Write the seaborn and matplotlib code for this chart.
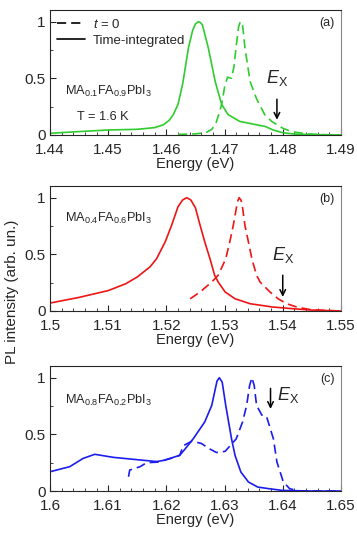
"""
PL spectra (t = 0 and time-integrated) for three MA/FA compositions.
"""

import pandas as pd
import matplotlib
matplotlib.use("Agg")
import matplotlib.pyplot as plt
from matplotlib.ticker import MultipleLocator, FuncFormatter
import seaborn as sns

# panel (a) MA0.1FA0.9PbI3
A_INT_E = [1.440, 1.445, 1.450, 1.455, 1.458, 1.4595, 1.4605, 1.4612, 1.462, 1.4628, 1.4638,
           1.4645, 1.4650, 1.4655, 1.4659, 1.4662, 1.4672, 1.468, 1.4684, 1.4695, 1.4706,
           1.4726, 1.4755, 1.477, 1.4783, 1.480, 1.482, 1.485, 1.490]
A_INT_I = [0.015, 0.03, 0.044, 0.05, 0.065, 0.09, 0.13, 0.18, 0.27, 0.45, 0.77,
           0.92, 0.98, 1.0, 0.99, 0.97, 0.77, 0.57, 0.47, 0.27, 0.18,
           0.12, 0.09, 0.075, 0.045, 0.02, 0.008, 0.003, 0.0]
A_T0_E = [1.462, 1.465, 1.4668, 1.4678, 1.4685, 1.469, 1.4695, 1.470, 1.4705, 1.4712, 1.4716,
          1.472, 1.4724, 1.4727, 1.4729, 1.4731, 1.4735, 1.4744, 1.4755, 1.4769, 1.4781,
          1.480, 1.4815, 1.484, 1.487, 1.490]
A_T0_I = [0.005, 0.01, 0.02, 0.05, 0.10, 0.18, 0.27, 0.42, 0.51, 0.50, 0.60,
          0.78, 0.95, 1.0, 0.995, 0.97, 0.77, 0.47, 0.32, 0.18, 0.12,
          0.06, 0.03, 0.01, 0.003, 0.0]

# panel (b) MA0.4FA0.6PbI3
B_INT_E = [1.500, 1.505, 1.510, 1.513, 1.515, 1.5172, 1.5183, 1.5198, 1.5209, 1.522, 1.5228,
           1.5235, 1.5242, 1.525, 1.5258, 1.5266, 1.5275, 1.5283, 1.5289, 1.5301, 1.5318,
           1.5344, 1.5383, 1.5418, 1.545, 1.550]
B_INT_I = [0.07, 0.12, 0.18, 0.24, 0.30, 0.39, 0.46, 0.61, 0.756, 0.92, 0.98,
           1.0, 0.98, 0.91, 0.756, 0.61, 0.46, 0.315, 0.256, 0.168, 0.108,
           0.064, 0.035, 0.02, 0.008, 0.0]
B_T0_E = [1.5241, 1.5258, 1.5278, 1.5289, 1.5302, 1.5309, 1.5315, 1.532, 1.5322, 1.5325,
          1.5328, 1.533, 1.5335, 1.5341, 1.5347, 1.5355, 1.5361, 1.5378, 1.5392, 1.5407,
          1.5424, 1.545, 1.550]
B_T0_I = [0.108, 0.168, 0.256, 0.315, 0.46, 0.61, 0.756, 0.90, 0.96, 1.0,
          0.98, 0.95, 0.756, 0.61, 0.46, 0.315, 0.256, 0.168, 0.108, 0.064,
          0.035, 0.01, 0.0]

# panel (c) MA0.8FA0.2PbI3
C_INT_E = [1.600, 1.6034, 1.6057, 1.6077, 1.6109, 1.6155, 1.6183, 1.6195, 1.6223, 1.6232,
           1.6246, 1.6266, 1.6278, 1.6287, 1.6291, 1.6296, 1.6302, 1.6312, 1.6318, 1.6328,
           1.6341, 1.6357, 1.6377, 1.640, 1.645, 1.650]
C_INT_I = [0.17, 0.215, 0.288, 0.324, 0.297, 0.274, 0.26, 0.27, 0.315, 0.37,
           0.46, 0.61, 0.756, 0.97, 1.0, 0.96, 0.756, 0.46, 0.315, 0.168,
           0.08, 0.035, 0.02, 0.005, 0.0, 0.0]
C_T0_E = [1.6135, 1.6137, 1.6155, 1.6166, 1.6185, 1.6206, 1.6223, 1.6229, 1.6244, 1.626,
          1.6275, 1.6286, 1.6301, 1.632, 1.6331, 1.6338, 1.6343, 1.6347, 1.6351, 1.6355,
          1.6364, 1.6372, 1.6375, 1.6384, 1.639, 1.6401, 1.6412, 1.643, 1.650]
C_T0_I = [0.126, 0.185, 0.215, 0.25, 0.255, 0.285, 0.315, 0.40, 0.44, 0.42,
          0.37, 0.34, 0.35, 0.46, 0.61, 0.756, 0.93, 1.0, 0.93, 0.756,
          0.67, 0.66, 0.61, 0.46, 0.256, 0.08, 0.02, 0.0, 0.0]

PANELS = [
    dict(tag="(a)", color="#2fcc2f", xlim=(1.44, 1.49),
         integ=(A_INT_E, A_INT_I), t0=(A_T0_E, A_T0_I),
         name=r"MA$_{0.1}$FA$_{0.9}$PbI$_3$", name_y=0.38),
    dict(tag="(b)", color="#ee1515", xlim=(1.50, 1.55),
         integ=(B_INT_E, B_INT_I), t0=(B_T0_E, B_T0_I),
         name=r"MA$_{0.4}$FA$_{0.6}$PbI$_3$", name_y=0.82),
    dict(tag="(c)", color="#1c1cee", xlim=(1.60, 1.65),
         integ=(C_INT_E, C_INT_I), t0=(C_T0_E, C_T0_I),
         name=r"MA$_{0.8}$FA$_{0.2}$PbI$_3$", name_y=0.80),
]

# E_X arrows: (energy, arrow top, arrow bottom, label x, label y, label ha)
EX_MARKS = [
    (1.4790, 0.34, 0.11, 1.4790, 0.50, "center"),
    (1.5400, 0.34, 0.10, 1.5400, 0.49, "center"),
    (1.6379, 0.93, 0.70, 1.6390, 0.85, "left"),
]

DASH = (0, (5.5, 3))

sns.set_style("ticks")
plt.rcParams["font.family"] = ["Liberation Sans", "DejaVu Sans"]
plt.rcParams["mathtext.fontset"] = "custom"
plt.rcParams["mathtext.rm"] = "Liberation Sans"
plt.rcParams["mathtext.it"] = "Liberation Sans:italic"

fig = plt.figure(figsize=(3.57, 5.35), dpi=100)
bottoms = [0.7477, 0.4187, 0.0822]
axes = [fig.add_axes([0.140, b, 0.815, 0.233]) for b in bottoms]

for ax, p, ex in zip(axes, PANELS, EX_MARKS):
    d_int = pd.DataFrame({"E": p["integ"][0], "I": p["integ"][1]})
    d_t0 = pd.DataFrame({"E": p["t0"][0], "I": p["t0"][1]})
    sns.lineplot(data=d_int, x="E", y="I", ax=ax, color=p["color"], lw=1.2)
    sns.lineplot(data=d_t0, x="E", y="I", ax=ax, color=p["color"], lw=1.2, linestyle=DASH)
    ax.set_xlim(*p["xlim"])
    ax.set_ylim(0, 1.1)
    ax.xaxis.set_major_locator(MultipleLocator(0.01))
    ax.xaxis.set_minor_locator(MultipleLocator(0.002))
    ax.yaxis.set_major_locator(MultipleLocator(0.5))
    ax.yaxis.set_minor_locator(MultipleLocator(0.25))
    ax.xaxis.set_major_formatter(FuncFormatter(lambda v, _: f"{v:g}"))
    ax.yaxis.set_major_formatter(FuncFormatter(lambda v, _: f"{v:g}"))
    ax.tick_params(direction="in", which="major", length=4, width=0.8, labelsize=11, pad=3)
    ax.tick_params(axis="x", which="major", pad=5.5)
    ax.tick_params(direction="in", which="minor", length=2, width=0.6)
    ax.set_xlabel("Energy (eV)", fontsize=10.5, labelpad=0)
    ax.set_ylabel("")
    for s in ax.spines.values():
        s.set_linewidth(0.8)
    ax.spines["right"].set_color("#888888")
    ax.text(0.979, 0.896, p["tag"], transform=ax.transAxes, ha="right", va="center", fontsize=9)
    ax.text(p["xlim"][0] + 0.0026, p["name_y"], p["name"], fontsize=9.2, va="center")

    e, top, bot, lx, ly, ha = ex
    ax.annotate("", xy=(e, bot), xytext=(e, top),
                arrowprops=dict(arrowstyle="->", color="black", lw=1.1))
    ax.text(lx, ly, r"$E_{\mathrm{X}}$", fontsize=13, ha=ha, va="center")

axes[0].text(1.4446, 0.16, "T = 1.6 K", fontsize=9.2, va="center")

# legend in panel (a)
handles = [plt.Line2D([], [], color="black", lw=1.2, linestyle=DASH),
           plt.Line2D([], [], color="black", lw=1.2)]
axes[0].legend(handles, [r"$t$ = 0", "Time-integrated"], loc="upper left",
               bbox_to_anchor=(0.0, 1.0), frameon=False, fontsize=9.5,
               handlelength=2.1, handletextpad=0.6, borderaxespad=0.25,
               borderpad=0.3, labelspacing=0.3)

fig.text(0.034, 0.454, "PL intensity (arb. un.)", rotation=90, ha="center", va="center",
         fontsize=11)

fig.savefig("out.png", dpi=100)
